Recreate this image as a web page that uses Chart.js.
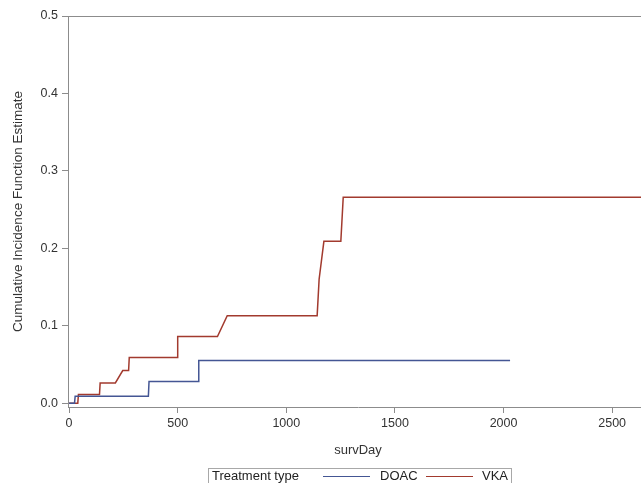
<!DOCTYPE html>
<html>
<head>
<meta charset="utf-8">
<script src="https://cdn.jsdelivr.net/npm/chart.js@4.4.1/dist/chart.umd.min.js"></script>
<style>
    html, body { margin: 0; padding: 0; background: #fff; overflow: hidden; }
    #wrap { position: relative; width: 641px; height: 483px; overflow: hidden; }
    #cifChart { position: absolute; left: 0; top: 0; }
    .legend { position: absolute; left: 208px; top: 468px; width: 304px; height: 22px; border: 1px solid #a8a8a8; box-sizing: border-box; font-family: "Liberation Sans", Arial, sans-serif; font-size: 13px; color: #222; }
    .legend span { position: absolute; top: -1px; line-height: 15px; white-space: nowrap; }
    .legend i { position: absolute; top: 7px; height: 0; border-top: 1.5px solid; }
</style>
</head>
<body>
<div id="wrap">
    <canvas id="cifChart" width="656" height="483" style="width:656px;height:483px"></canvas>
    <div class="legend">
        <span style="left:3px">Treatment type</span>
        <i style="left:114px;width:47px;border-color:#445694"></i>
        <span style="left:171px">DOAC</span>
        <i style="left:217px;width:47px;border-color:#a23a2e"></i>
        <span style="left:273px">VKA</span>
    </div>
</div>
<script>
const doacDays = [0, 25, 28, 365, 368, 594, 597, 2030];
const doacCif = [0, 0, 0.009, 0.009, 0.028, 0.028, 0.055, 0.055];

const vkaDays = [0, 40, 43, 140, 143, 213, 247, 274, 277, 497, 500, 683, 728, 1142, 1151, 1173, 1251, 1262, 2700];
const vkaCif = [0, 0, 0.011, 0.011, 0.026, 0.026, 0.042, 0.042, 0.059, 0.059, 0.086, 0.086, 0.113, 0.113, 0.16, 0.209, 0.209, 0.266, 0.266];

const xTicks = [0, 500, 1000, 1500, 2000, 2500];
const yTicks = [0, 0.1, 0.2, 0.3, 0.4, 0.5];

const axisGray = '#8c8c8c';
const textColor = '#333';
const fontFamily = '"Liberation Sans", Arial, sans-serif';

// top edge of the plot frame
const framePlugin = {
    id: 'frame',
    afterDraw(chart) {
        const { ctx, chartArea } = chart;
        ctx.save();
        ctx.strokeStyle = axisGray;
        ctx.lineWidth = 1;
        ctx.beginPath();
        ctx.moveTo(chartArea.left, chartArea.top + 0.5);
        ctx.lineTo(chartArea.right, chartArea.top + 0.5);
        ctx.stroke();
        ctx.restore();
    }
};

const toPoints = (xs, ys) => xs.map((x, i) => ({ x: x, y: ys[i] }));

const ctx = document.getElementById('cifChart').getContext('2d');
new Chart(ctx, {
    type: 'line',
    data: {
        datasets: [
            {
                label: 'DOAC',
                data: toPoints(doacDays, doacCif),
                borderColor: '#445694',
                borderWidth: 1.5,
                pointRadius: 0,
                tension: 0
            },
            {
                label: 'VKA',
                data: toPoints(vkaDays, vkaCif),
                borderColor: '#a23a2e',
                borderWidth: 1.5,
                pointRadius: 0,
                tension: 0
            }
        ]
    },
    options: {
        responsive: false,
        animation: false,
        layout: { padding: { top: 16, right: 8, left: 0, bottom: 25 } },
        plugins: {
            legend: { display: false },
            tooltip: { enabled: false }
        },
        scales: {
            x: {
                type: 'linear',
                min: -5,
                max: 2665,
                afterBuildTicks: scale => { scale.ticks = xTicks.map(v => ({ value: v })); },
                afterFit: scale => { scale.height = 51; },
                grid: { drawOnChartArea: false, drawTicks: true, tickLength: 6, color: axisGray },
                border: { display: true, color: axisGray },
                ticks: {
                    color: textColor,
                    padding: 3,
                    maxRotation: 0,
                    font: { family: fontFamily, size: 12.5 },
                    callback: v => String(v)
                },
                title: {
                    display: true,
                    text: 'survDay',
                    color: textColor,
                    padding: { top: 0, bottom: 0 },
                    font: { family: fontFamily, size: 13 }
                }
            },
            y: {
                type: 'linear',
                min: -0.005,
                max: 0.5,
                afterBuildTicks: scale => { scale.ticks = yTicks.map(v => ({ value: v })); },
                afterFit: scale => { scale.width = 68; },
                grid: { drawOnChartArea: false, drawTicks: true, tickLength: 6, color: axisGray },
                border: { display: true, color: axisGray },
                ticks: {
                    color: textColor,
                    padding: 4,
                    font: { family: fontFamily, size: 12.5 },
                    callback: v => v.toFixed(1)
                },
                title: {
                    display: true,
                    text: 'Cumulative Incidence Function Estimate',
                    color: textColor,
                    padding: { top: 10, bottom: 0 },
                    font: { family: fontFamily, size: 13.5 }
                }
            }
        }
    },
    plugins: [framePlugin]
});
</script>
</body>
</html>
